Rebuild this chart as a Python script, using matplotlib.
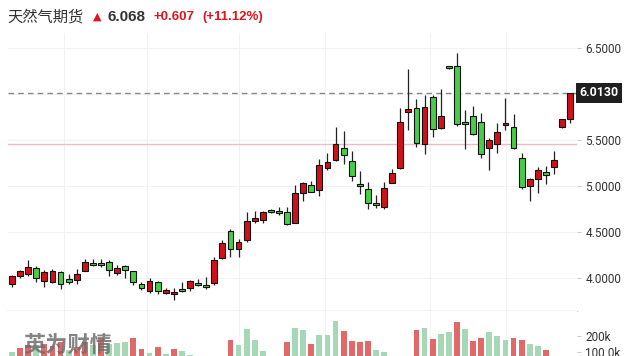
import numpy as np
import matplotlib
matplotlib.use("Agg")
import matplotlib.pyplot as plt

# daily OHLC
opens = [3.938, 4.018, 4.040, 4.109, 3.964, 3.960, 4.062, 3.986, 3.978, 4.079,
         4.160, 4.168, 4.177, 4.058, 4.130, 4.073, 3.935, 3.862, 3.957, 3.840,
         3.823, 3.880, 3.891, 3.949, 3.927, 3.942, 4.214, 4.511, 4.318, 4.413,
         4.623, 4.634, 4.739, 4.728, 4.717, 4.601, 4.921, 5.008, 4.957, 5.199,
         5.283, 5.410, 5.272, 5.022, 4.967, 4.812, 4.768, 5.036, 5.192, 5.801,
         5.845, 5.453, 5.964, 5.627, 6.301, 6.301, 5.699, 5.761, 5.692, 5.410,
         5.453, 5.658, 5.638, 5.301, 5.000, 5.073, 5.149, 5.203, 5.645, 5.725]
highs = [4.033, 4.087, 4.196, 4.130, 4.087, 4.101, 4.076, 4.043, 4.095, 4.210,
         4.210, 4.210, 4.196, 4.141, 4.145, 4.079, 3.957, 4.000, 3.967, 3.888,
         3.888, 3.960, 3.978, 3.986, 4.008, 4.225, 4.413, 4.529, 4.427, 4.717,
         4.732, 4.728, 4.750, 4.775, 4.775, 5.014, 5.043, 5.058, 5.290, 5.362,
         5.638, 5.595, 5.384, 5.166, 5.047, 4.902, 5.040, 5.182, 5.845, 6.272,
         5.946, 5.989, 5.989, 6.054, 6.304, 6.446, 5.826, 5.870, 5.790, 5.518,
         5.682, 5.953, 5.779, 5.362, 5.090, 5.210, 5.217, 5.380, 5.732, 6.013]
lows = [3.905, 4.000, 4.022, 3.957, 3.905, 3.946, 3.880, 3.935, 3.932, 4.076,
        4.130, 4.123, 4.022, 4.033, 3.997, 3.927, 3.870, 3.840, 3.826, 3.826,
        3.761, 3.848, 3.862, 3.913, 3.877, 3.924, 4.205, 4.232, 4.232, 4.391,
        4.595, 4.595, 4.707, 4.685, 4.576, 4.598, 4.837, 4.935, 4.891, 5.174,
        5.272, 5.239, 5.058, 4.913, 4.750, 4.758, 4.747, 5.033, 5.185, 5.609,
        5.424, 5.345, 5.536, 5.620, 6.272, 5.655, 5.399, 5.551, 5.308, 5.174,
        5.355, 5.605, 5.402, 4.967, 4.837, 4.921, 5.018, 5.127, 5.634, 5.688]
closes = [4.022, 4.076, 4.123, 3.997, 4.065, 4.076, 3.935, 3.953, 4.043, 4.171,
          4.138, 4.141, 4.087, 4.105, 4.087, 3.953, 3.888, 3.964, 3.855, 3.870,
          3.851, 3.855, 3.964, 3.921, 3.899, 4.196, 4.377, 4.318, 4.391, 4.620,
          4.652, 4.714, 4.714, 4.703, 4.584, 4.921, 5.033, 4.938, 5.225, 5.261,
          5.457, 5.334, 5.105, 5.000, 4.812, 4.790, 4.978, 5.138, 5.701, 5.834,
          5.471, 5.855, 5.616, 5.761, 6.279, 5.671, 5.671, 5.562, 5.345, 5.497,
          5.584, 5.682, 5.410, 4.992, 5.076, 5.171, 5.120, 5.283, 5.725, 6.013]

# volume in thousands, and the colour each bar has in the picture (r / g)
volumes = [100, 123, 142, 142, 148, 136, 162, 111, 129, 161,
           142, 186, 148, 156, 162, 190, 121, 96, 131, 90,
           121, 106, 84, 60, 55, 65, 50, 173, 146, 246,
           178, 106, 60, 55, 162, 250, 240, 152, 209, 209,
           292, 229, 167, 161, 167, 111, 100, 60, 55, 50,
           236, 252, 184, 215, 227, 286, 246, 167, 190, 223,
           202, 173, 190, 173, 152, 140, 111, 60, 50, 40]
vol_side = list("grrgrrrgrr" "grgggrrgrg"
                "rggrgrgrgg" "ggggrggrgg"
                "grrrrggrrr" "rgrggrgrrg"
                "ggrrggrrrr")

last_price = 6.013
ref_line = 5.456
price_ticks = [4.0, 4.5, 5.0, 5.5, 6.0, 6.5]
vgrid = [6.4, 16.7, 28.1, 38.7, 51.7, 61.1]

UP = "#d0111b"
DOWN = "#46cf46"
VOL_UP = "#e06a6a"
VOL_DOWN = "#a6d8b8"

W, H = 629, 356
fig = plt.figure(figsize=(W / 100, H / 100), dpi=100)

x = np.arange(len(opens))
o = np.array(opens)
c = np.array(closes)
hi = np.array(highs)
lo = np.array(lows)

# price panel
ax = fig.add_axes([8 / W, (H - 311) / H, (577 - 8) / W, (311 - 33) / H])
up = c >= o
ax.vlines(x, lo, hi, color="#222222", linewidth=0.9, zorder=2)
body_bot = np.minimum(o, c)
body_h = np.maximum(np.abs(c - o), 0.012)
ax.bar(x, body_h, bottom=body_bot, width=0.72,
       color=np.where(up, UP, DOWN), edgecolor="#111111", linewidth=0.8, zorder=3)

ax.axhline(last_price, color="#888888", linestyle=(0, (4, 3)), linewidth=1.0, zorder=1)
ax.axhline(ref_line, color="#f5b8c0", linewidth=1.0, zorder=1)

ax.set_xlim(-0.5, 69.85)
ax.set_ylim(6.5 - (311 - 48) / 92, 6.5 + (48 - 33) / 92)
ax.set_yticks(price_ticks)
# the 6.0000 label sits under the last-price tag, so leave it blank
ax.set_yticklabels(["" if t == 6.0 else "%.4f" % t for t in price_ticks])
ax.yaxis.tick_right()
ax.tick_params(axis="y", length=3, color="#cccccc", labelsize=8.5,
               labelcolor="#333333", pad=3)
ax.set_xticks(vgrid)
ax.tick_params(axis="x", length=0, labelbottom=False)
ax.grid(True, color="#f2f2f2", linewidth=0.8)
ax.set_axisbelow(True)
for s in ["top", "left", "right"]:
    ax.spines[s].set_visible(False)
ax.spines["bottom"].set_color("#cccccc")
ax.spines["bottom"].set_linewidth(1.0)
for lbl in ax.get_yticklabels():
    lbl.set_family("Roboto")

ax.text(1.004, last_price, "%.4f" % last_price, transform=ax.get_yaxis_transform(),
        ha="left", va="center", fontsize=8.8, fontweight="bold", color="white",
        family="Roboto", zorder=10,
        bbox=dict(boxstyle="square,pad=0.3", facecolor="#1f1f1f", edgecolor="none"))

# volume panel (runs off the bottom of the picture like the original)
axv = fig.add_axes([8 / W, (H - 368) / H, (577 - 8) / W, (368 - 311) / H])
axv.bar(x, volumes, width=0.72,
        color=[VOL_UP if s == "r" else VOL_DOWN for s in vol_side])
axv.set_xlim(-0.5, 69.85)
axv.set_ylim(0, (368 - 311) * 100 / 16)
axv.set_xticks(vgrid)
axv.tick_params(axis="x", length=0, labelbottom=False)
axv.grid(True, axis="x", color="#f2f2f2", linewidth=0.8)
axv.set_axisbelow(True)
axv.yaxis.tick_right()
axv.set_yticks([100, 200])
axv.set_yticklabels(["100.0k", "200k"])
axv.tick_params(axis="y", length=3, color="#cccccc", labelsize=8.5,
                labelcolor="#333333", pad=3)
for lbl in axv.get_yticklabels():
    lbl.set_family("Roboto")
for s in axv.spines.values():
    s.set_visible(False)

# watermark
fig.text(23 / W, 1 - 345 / H, "英为财情", fontsize=16, fontweight="bold",
         color="#6e6e6e", alpha=0.85, va="center", ha="left",
         family=["Noto Sans CJK SC", "DejaVu Sans"])

# header
cjk = ["Noto Sans CJK SC", "DejaVu Sans"]
fig.text(7 / W, 1 - 17 / H, "天然气期货", fontsize=11, color="#333333",
         va="center", ha="left", family=cjk)
fig.text(93 / W, 1 - 17 / H, "▲", fontsize=8, color="#e0141e",
         va="center", ha="left", family="DejaVu Sans")
fig.text(107 / W, 1 - 17 / H, "6.068", fontsize=11, fontweight="bold",
         color="#333333", va="center", ha="left", family="Liberation Sans")
fig.text(153 / W, 1 - 17 / H, "+0.607", fontsize=9.5, fontweight="bold",
         color="#e0141e", va="center", ha="left", family="Liberation Sans")
fig.text(202 / W, 1 - 17 / H, "(+11.12%)", fontsize=9.5, fontweight="bold",
         color="#e0141e", va="center", ha="left", family="Liberation Sans")

fig.savefig("out.png", dpi=100)
